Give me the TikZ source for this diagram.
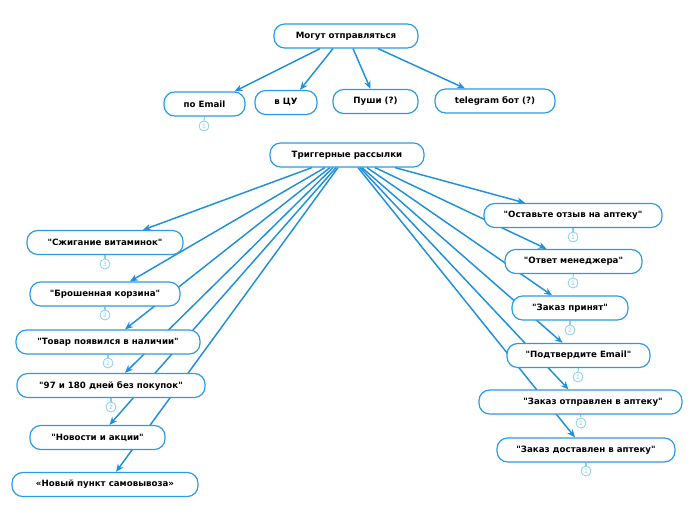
\documentclass[tikz,border=0pt]{standalone}
\usepackage{fontspec}
\setmainfont{DejaVu Sans}[Ligatures=TeXOff]
\usetikzlibrary{arrows.meta,calc,backgrounds}
\definecolor{bblue}{HTML}{2A9BE6}
\definecolor{lblue}{HTML}{1E90DC}
\definecolor{cblue}{HTML}{8CCBF2}
\tikzset{
  box/.style={draw=bblue, line width=0.9pt, rounded corners=8pt, minimum height=18pt, inner sep=0pt, fill=white, font=\bfseries\fontsize{6.5}{7}\selectfont, text=black},
  conn/.style={draw=lblue, line width=1.1pt, -{Stealth[length=6pt,width=5pt]}},
  badge/.style={circle, draw=cblue, line width=0.6pt, minimum size=7.5pt, inner sep=0pt, fill=white, text=cblue, font=\fontsize{4.5}{5}\selectfont},
  bline/.style={draw=cblue, line width=0.8pt}
}
\begin{document}
\begin{tikzpicture}[x=0.75pt,y=-0.75pt]
\useasboundingbox (0,0) rectangle (696,520);
% top group
\node[box, minimum width=108pt] (m) at (346,36) {Могут отправляться};
\node[box, minimum width=60.75pt] (email) at (204.5,104) {по Email};
\node[box, minimum width=46.5pt] (cu) at (286,102.5) {в ЦУ};
\node[box, minimum width=63.75pt] (push) at (375.5,101.5) {Пуши (?)};
\node[box, minimum width=90pt] (tg) at (495,101) {telegram бот (?)};
% trigger group
\node[box, minimum width=115.5pt] (trig) at (347,155) {Триггерные рассылки};
\node[box, minimum width=117pt] (c1) at (105,242.5) {"Сжигание витаминок"};
\node[box, minimum width=112.5pt] (c2) at (105,294) {"Брошенная корзина"};
\node[box, minimum width=138pt] (c3) at (108,342) {"Товар появился в наличии"};
\node[box, minimum width=141pt] (c4) at (111,385.5) {"97 и 180 дней без покупок"};
\node[box, minimum width=101.25pt] (c5) at (97.5,437.5) {"Новости и акции"};
\node[box, minimum width=139.5pt] (c6) at (105,484.5) {«Новый пункт самовывоза»};
\node[box, minimum width=133.5pt] (r1) at (573,215.5) {"Оставьте отзыв на аптеку"};
\node[box, minimum width=102.75pt] (r2) at (573.5,261.5) {"Ответ менеджера"};
\node[box, minimum width=87pt] (r3) at (570,308) {"Заказ принят"};
\node[box, minimum width=107.25pt] (r4) at (578.5,355.5) {"Подтвердите Email"};
\node[box, minimum width=152.25pt] (r5) at (580.5,402) {\hspace*{18.75pt}"Заказ отправлен в аптеку"};
\node[box, minimum width=133.5pt] (r6) at (586,450) {"Заказ доставлен в аптеку"};
% badges
\node[badge] (be) at (204,126) {1};
\node[badge] (bc1) at (105,264) {3};
\node[badge] (bc2) at (105,315) {2};
\node[badge] (bc3) at (108,363) {2};
\node[badge] (bc4) at (111,407) {2};
\node[badge] (br1) at (573,237) {1};
\node[badge] (br2) at (573,283) {1};
\node[badge] (br3) at (570,330) {2};
\node[badge] (br4) at (578,377) {1};
\node[badge] (br5) at (581,423) {1};
\node[badge] (br6) at (586,471) {1};
\begin{scope}[on background layer]
\draw[conn] ($(m.south)+(-26,0)$) -- ($(email.north)+(30,0)$);
\draw[conn] ($(m.south)+(-13,0)$) -- ($(cu.north)+(14,0)$);
\draw[conn] ($(m.south)+(7,0)$) -- ($(push.north)+(-5,0)$);
\draw[conn] ($(m.south)+(32,0)$) -- ($(tg.north)+(-30,0)$);
\draw[conn] ($(trig.south)+(-35,0)$) -- ($(c1.north)+(38,0)$);
\draw[conn] ($(trig.south)+(-22,0)$) -- ($(c2.north)+(25,0)$);
\draw[conn] ($(trig.south)+(-17,0)$) -- ($(c3.north)+(17,0)$);
\draw[conn] ($(trig.south)+(-14,0)$) -- ($(c4.north)+(14,0)$);
\draw[conn] ($(trig.south)+(-11,0)$) -- ($(c5.north)+(12,0)$);
\draw[conn] ($(trig.south)+(-9,0)$) -- ($(c6.north)+(11,0)$);
\draw[conn] ($(trig.south)+(48,0)$) -- ($(r1.north)+(-48,0)$);
\draw[conn] ($(trig.south)+(28,0)$) -- ($(r2.north)+(-27,0)$);
\draw[conn] ($(trig.south)+(20,0)$) -- ($(r3.north)+(-18,0)$);
\draw[conn] ($(trig.south)+(15,0)$) -- ($(r4.north)+(-16,0)$);
\draw[conn] ($(trig.south)+(13,0)$) -- ($(r5.north)+(-12,0)$);
\draw[conn] ($(trig.south)+(11,0)$) -- ($(r6.north)+(-11,0)$);
\foreach \a/\b in {email/be,c1/bc1,c2/bc2,c3/bc3,c4/bc4,r1/br1,r2/br2,r3/br3,r4/br4,r5/br5,r6/br6}
  \draw[bline] (\a.south) -- (\b.north);
\end{scope}
\end{tikzpicture}
\end{document}
